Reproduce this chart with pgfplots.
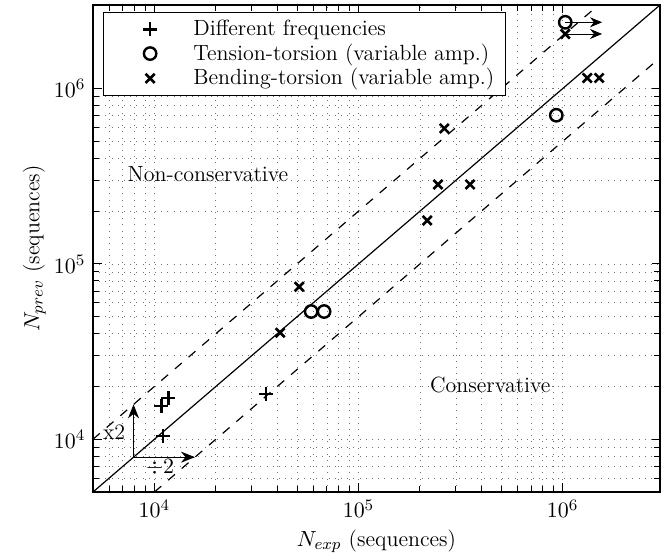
\documentclass[border=0pt]{standalone}
\usepackage{pgfplots}
\pgfplotsset{compat=1.18}
\usetikzlibrary{arrows.meta}
\pgfplotsset{
  legmark/.style={legend image code/.code={
        \path (0pt,-1pt) (38pt,1pt);
        \draw[##1] plot coordinates {(19pt,0pt)};}},
}
\begin{document}
\fontsize{11}{13.5}\selectfont
\begin{tikzpicture}
\begin{axis}[
    scale only axis,
    width=283.5pt, height=243.5pt,
    xmode=log, ymode=log,
    xmin=5000, xmax=3e6,
    ymin=5000, ymax=3e6,
    xlabel={$N_{exp}$ (sequences)},
    ylabel={$N_{prev}$ (sequences)},
    xlabel style={yshift=1.5pt},
    ylabel style={yshift=-3.5pt},
    grid=both,
    major grid style={gray!90!black, dash pattern=on 0.5pt off 2.6pt},
    minor grid style={gray!90!black, dash pattern=on 0.5pt off 2.6pt},
    axis line style={line width=0.9pt},
    tick style={black, line width=0.5pt},
    legend style={at={(0.018,0.985)}, anchor=north west, draw=black,
        line width=0.6pt, cells={anchor=west}, row sep=-1.5pt,
        inner xsep=3.5pt, inner ysep=1.5pt},
  ]

  % Different frequencies
  \addplot[only marks, legmark, black, mark=+, mark size=3.5pt, line width=1.3pt] coordinates {
    (11000,10450)
    (10800,15500)
    (11700,17200)
    (35200,18150)
  };
  \addlegendentry{Different frequencies}

  % Tension-torsion
  \addplot[only marks, legmark, black, mark=o, mark size=3.1pt, line width=1.2pt] coordinates {
    (58600,53500)
    (67800,53500)
    (931000,705000)
    (1030000,2390000)
  };
  \addlegendentry{Tension-torsion (variable amp.)}

  % Bending-torsion
  \addplot[only marks, legmark, black, mark=x, mark size=3.2pt, line width=1.3pt] coordinates {
    (41300,40500)
    (51200,74100)
    (217000,177000)
    (245000,284000)
    (352000,284000)
    (263000,593000)
    (1030000,2050000)
    (1320000,1150000)
    (1510000,1150000)
  };
  \addlegendentry{Bending-torsion (variable amp.)}

  % y = x and factor 2 bands
  \addplot[black, line width=0.6pt, forget plot] coordinates {(5000,5000) (3e6,3e6)};
  \addplot[black, line width=0.6pt, dash pattern=on 4.5pt off 4.5pt, forget plot]
    coordinates {(5000,10000) (1.5e6,3e6)};
  \addplot[black, line width=0.6pt, dash pattern=on 4.5pt off 4.5pt, forget plot]
    coordinates {(10000,5000) (3e6,1.5e6)};

  % run-outs
  \addplot[black, line width=0.4pt, -{Stealth[length=6pt,width=5pt]}, forget plot]
    coordinates {(1030000,2390000) (1560000,2390000)};
  \addplot[black, line width=0.4pt, -{Stealth[length=6pt,width=5pt]}, forget plot]
    coordinates {(1030000,2050000) (1560000,2050000)};

  % x2 / :2 arrows
  \addplot[black, line width=0.4pt, -{Stealth[length=7pt,width=5.5pt]}, forget plot]
    coordinates {(7900,7900) (7900,15800)};
  \addplot[black, line width=0.4pt, -{Stealth[length=7pt,width=5.5pt]}, forget plot]
    coordinates {(7900,7900) (15800,7900)};

  \node at (axis cs:6350,11000) {x2};
  \node at (axis cs:10650,6950) {$\div 2$};
  \node at (axis cs:18300,324000) {Non-conservative};
  \node at (axis cs:442000,20400) {Conservative};
\end{axis}
\pgfresetboundingbox
\path[use as bounding box] ([xshift=-46.5pt,yshift=-31.5pt]current axis.south west)
  rectangle ([xshift=1pt,yshift=2.5pt]current axis.north east);
\end{tikzpicture}
\end{document}
